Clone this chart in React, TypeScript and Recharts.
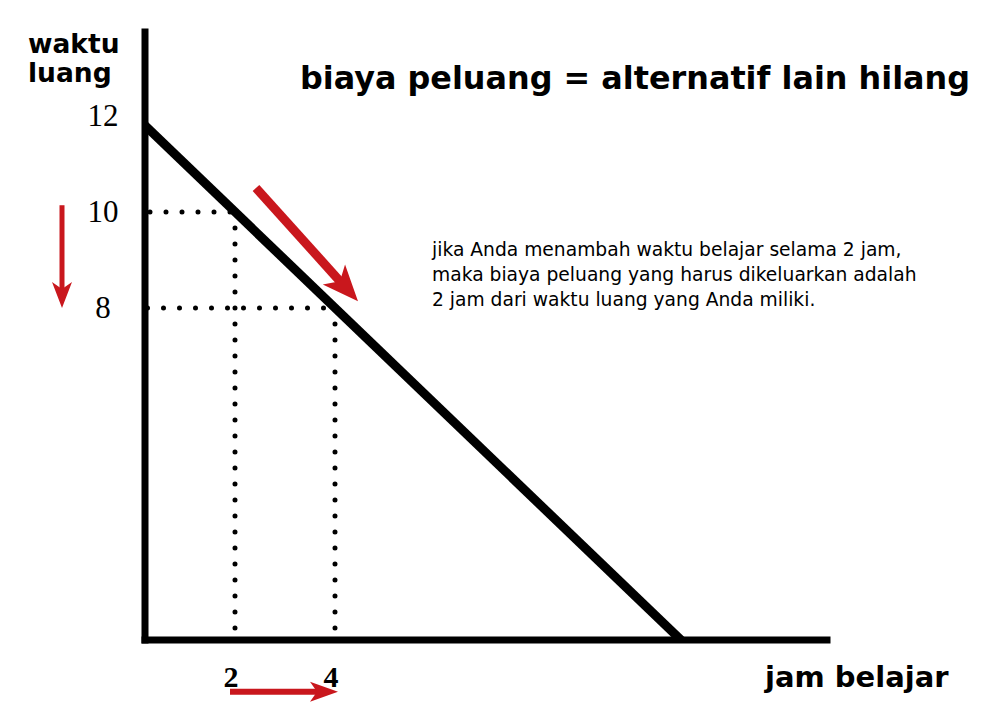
import * as React from "react";
import {
  ComposedChart, Line, XAxis, YAxis, ReferenceLine,
} from "recharts";

// garis kemungkinan: waktu luang = 12 - jam belajar
const linePoints = [
  { x: 0, y: 12 },
  { x: 12, y: 0 },
];

const xTicks = [2, 4];
const yTicks = [8, 10, 12];

// titik yang dibandingkan (jam belajar, waktu luang)
const pointA = { x: 2, y: 10 };
const pointB = { x: 4, y: 8 };

// panah merah (koordinat data)
const arrowDown = [{ x: -1.46, y: 10.14 }, { x: -1.46, y: 8.0 }];
const arrowAlong = [{ x: 2.42, y: 10.5 }, { x: 4.46, y: 8.14 }];
const arrowRight = [{ x: 1.9, y: 0 }, { x: 4.06, y: 0 }];

const title = "biaya peluang = alternatif lain hilang";
const yLabel = ["waktu", "luang"];
const xLabel = "jam belajar";
const note = [
  "jika Anda menambah waktu belajar selama 2 jam,",
  "maka biaya peluang yang harus dikeluarkan adalah",
  "2 jam dari waktu luang yang Anda miliki.",
];

const RED = "#c9171d";
const SANS = "'DejaVu Sans', sans-serif";
const SERIF = "'Liberation Serif', 'Times New Roman', serif";

function makeArrow(shaft: number, headLen: number, headWidth: number, notch: number) {
  return (p: any) => {
    const { x1, y1, x2, y2 } = p;
    const dx = x2 - x1;
    const dy = y2 - y1;
    const len = Math.sqrt(dx * dx + dy * dy);
    const ux = dx / len;
    const uy = dy / len;
    const nx = -uy;
    const ny = ux;
    const bx = x2 - ux * headLen;
    const by = y2 - uy * headLen;
    const mx = x2 - ux * (headLen - notch);
    const my = y2 - uy * (headLen - notch);
    const head = [
      [x2, y2],
      [bx + nx * headWidth / 2, by + ny * headWidth / 2],
      [mx, my],
      [bx - nx * headWidth / 2, by - ny * headWidth / 2],
    ].map((q) => q.join(",")).join(" ");
    return (
      <g>
        <line x1={x1} y1={y1} x2={mx + ux} y2={my + uy} stroke={RED} strokeWidth={shaft} />
        <polygon points={head} fill={RED} />
      </g>
    );
  };
}

function YTick(props: any) {
  const { x, y, payload } = props;
  return (
    <text x={x} y={y} textAnchor="middle" dominantBaseline="central"
      fontFamily={SERIF} fontSize={31} fill="#000">
      {payload.value}
    </text>
  );
}

function XTick(props: any) {
  const { x, y, payload } = props;
  return (
    <text x={x - 4} y={y} textAnchor="middle" dominantBaseline="central"
      fontFamily={SERIF} fontSize={30} fontWeight="bold" fill="#000">
      {payload.value}
    </text>
  );
}

const dotted = {
  stroke: "#000",
  strokeWidth: 5,
  strokeDasharray: "0 16",
  strokeLinecap: "round" as const,
};

export default function App() {
  return (
    <div style={{ position: "absolute", left: 0, top: 0, width: 1000, height: 719, background: "#fff" }}>
      <ComposedChart
        width={1000}
        height={719}
        data={linePoints}
        margin={{ top: 32, right: 173, bottom: 0, left: 0 }}
      >
        <XAxis
          type="number"
          dataKey="x"
          domain={[0.2, 13.84]}
          allowDataOverflow
          ticks={xTicks}
          height={79}
          tickLine={false}
          tickSize={0}
          tickMargin={36}
          axisLine={{ stroke: "#000", strokeWidth: 7, strokeLinecap: "square" }}
          tick={<XTick />}
        />
        <YAxis
          type="number"
          dataKey="y"
          domain={[1.08, 13.75]}
          allowDataOverflow
          ticks={yTicks}
          width={145}
          tickLine={false}
          tickSize={0}
          tickMargin={42}
          axisLine={{ stroke: "#000", strokeWidth: 7, strokeLinecap: "square" }}
          tick={<YTick />}
        />
        <ReferenceLine segment={[{ x: 0.3, y: pointA.y }, pointA]} {...dotted} />
        <ReferenceLine segment={[pointA, { x: pointA.x, y: 1.25 }]} {...dotted} />
        <ReferenceLine segment={[{ x: 0.25, y: pointB.y }, pointB]} {...dotted} />
        <ReferenceLine segment={[pointB, { x: pointB.x, y: 1.25 }]} {...dotted} />
        <Line
          type="linear"
          dataKey="y"
          stroke="#000"
          strokeWidth={9}
          dot={false}
          activeDot={false}
          isAnimationActive={false}
        />
        <ReferenceLine segment={arrowDown} ifOverflow="visible" shape={makeArrow(5, 26, 20, 7)} />
        <ReferenceLine segment={arrowAlong} ifOverflow="visible" shape={makeArrow(9, 36, 30, 9)} />
        <ReferenceLine segment={arrowRight} ifOverflow="visible" shape={makeArrow(6, 28, 20, 7)} />
      </ComposedChart>
      <svg width={1000} height={719} style={{ position: "absolute", left: 0, top: 0, pointerEvents: "none" }}>
        <text x={300} y={89} fontFamily={SANS} fontWeight="bold" fontSize={32}
          textLength={670} lengthAdjust="spacingAndGlyphs" fill="#000">{title}</text>
        <text x={28} y={53} fontFamily={SANS} fontWeight="bold" fontSize={26.5} fill="#000">{yLabel[0]}</text>
        <text x={28} y={82} fontFamily={SANS} fontWeight="bold" fontSize={26.5} fill="#000">{yLabel[1]}</text>
        <text x={765} y={687} fontFamily={SANS} fontWeight="bold" fontSize={29} fill="#000">{xLabel}</text>
        {note.map((t, i) => (
          <text key={i} x={432} y={256 + i * 25} fontFamily={SANS} fontSize={18.7} fill="#000">{t}</text>
        ))}
      </svg>
    </div>
  );
}
